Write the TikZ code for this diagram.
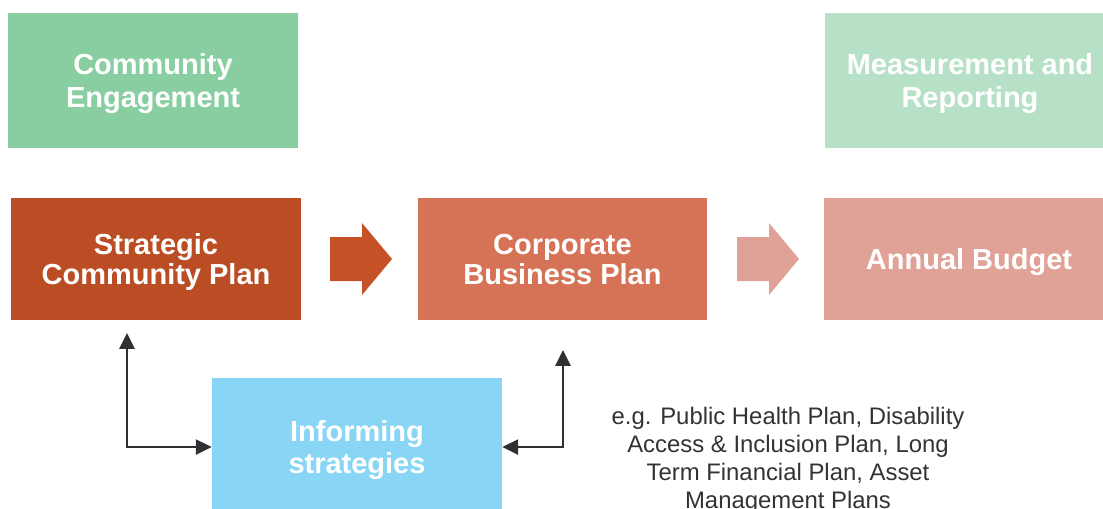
\documentclass[tikz,border=0pt]{standalone}
\usepackage{fontspec}
\setmainfont{Liberation Sans}
\usetikzlibrary{arrows.meta}

\definecolor{engage}{HTML}{88CEA0}
\definecolor{measure}{HTML}{B7E1C7}
\definecolor{strat}{HTML}{BA4D23}
\definecolor{stratarr}{HTML}{C55226}
\definecolor{corp}{HTML}{D67256}
\definecolor{budget}{HTML}{E0A196}
\definecolor{inform}{HTML}{89D5F6}
\definecolor{linkgray}{HTML}{2F3033}
\definecolor{textgray}{HTML}{333333}

\begin{document}
\begin{tikzpicture}[x=0.02cm,y=-0.02cm,
    box/.style={minimum width=5.8cm,minimum height=2.7cm,inner sep=0pt,
      align=center,text=white,text depth=0pt,
      font=\fontsize{16.5}{#1}\selectfont\bfseries},
    box/.default=17pt,
    link/.style={{Triangle[length=9pt,width=8.5pt]}-{Triangle[length=9pt,width=8.5pt]},
      draw=linkgray,line width=1.4pt}]

    \useasboundingbox (0,0) rectangle (1103,508);

    % the boxes

    \node[box=19.3pt,fill=engage] (engage) at (153,80.5) {Community\\Engagement};
    \node[box=19.3pt,fill=measure] (measure) at (970,80.5) {Measurement and\\Reporting};
    \node[box,fill=strat,minimum height=2.44cm] (scp) at (156,259) {Strategic\\Community Plan};
    \node[box,fill=corp,minimum height=2.44cm] (cbp) at (562.5,259) {Corporate\\Business Plan};
    \node[box,fill=budget,minimum height=2.44cm] (budget) at (969,259) {Annual Budget};
    \node[box=18.7pt,fill=inform,minimum height=2.76cm] (inform) at (357,447) {Informing\\strategies};

    % the block arrows

    \fill[stratarr] (330,237) -- (362,237) -- (362,223) -- (392,259) --
    (362,295) -- (362,281) -- (330,281) -- cycle;
    \fill[budget] (737,237) -- (769,237) -- (769,223) -- (799,259) --
    (769,295) -- (769,281) -- (737,281) -- cycle;

    % the links

    \coordinate (scpfoot) at (127,333);
    \coordinate (cbpfoot) at (563,350);
    \draw[link] (scpfoot) |- (inform.west);
    \draw[link] (cbpfoot) |- (inform.east);

    \node[align=center,text=textgray,font=\fontsize{13.6}{15.9}\selectfont]
    (examples) at (788,460) {e.g. Public Health Plan, Disability\\Access \&
      Inclusion Plan, Long\\Term Financial Plan, Asset\\Management Plans};
  \end{tikzpicture}
\end{document}
